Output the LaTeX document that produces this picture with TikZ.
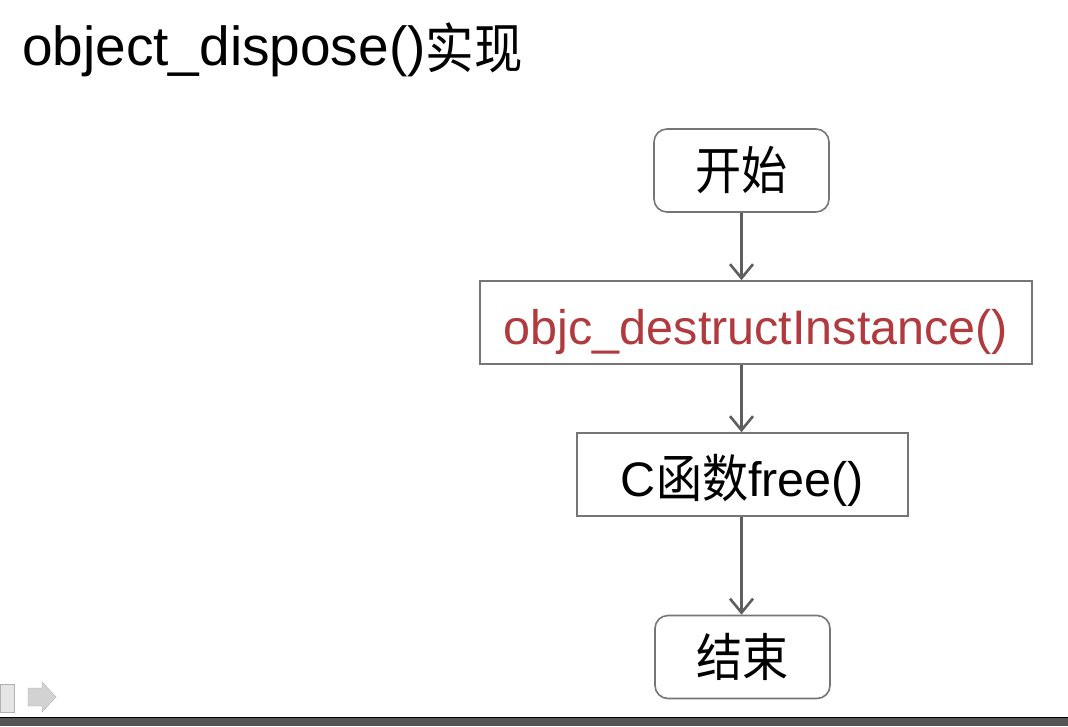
\documentclass[tikz,border=0pt]{standalone}
\usepackage{fontspec}
\usepackage{graphicx}
\setmainfont{Liberation Sans}
\newfontfamily\cjk{Noto Sans CJK SC}
\newcommand{\tallcjk}[1]{\scalebox{0.95}[1.06]{\cjk #1}}
\usetikzlibrary{arrows.meta}
\definecolor{linegray}{HTML}{5E5E5E}
\definecolor{boxgray}{HTML}{767676}
\definecolor{redtext}{HTML}{B03A3D}
\definecolor{bargray}{HTML}{555555}
\tikzset{
  boxfont/.style={font=\fontsize{48.5pt}{52pt}\selectfont},
  rbox/.style={draw=boxgray, line width=1.6pt, rounded corners=13pt, minimum width=175pt, minimum height=83pt, inner sep=0pt, boxfont},
  sbox/.style={draw=boxgray, line width=1.6pt, minimum height=83pt, inner sep=0pt, text height=44pt, text depth=0pt, boxfont},
  flow/.style={draw=linegray, line width=2.2pt, -{Straight Barb[length=14pt,width=23pt,line width=2.6pt]}}
}
\begin{document}
\begin{tikzpicture}[x=1pt,y=-1pt]
\useasboundingbox (0,0) rectangle (1068,726);
\fill[white] (0,0) rectangle (1068,726);
\node[anchor=base west, inner sep=0pt, font=\fontsize{55pt}{58pt}\selectfont] (title) at (22,65) {object\_dispose(){\fontsize{51pt}{54pt}\selectfont\raisebox{-3pt}{\tallcjk{实现}}}};
\node[rbox] (start) at (741.5,170.5) {\raisebox{-3pt}{\tallcjk{开始}}};
\node[sbox, minimum width=552pt, text=redtext] (destruct) at (756,322.5) {objc\_destructInstance()};
\node[sbox, minimum width=331pt] (free) at (742.5,474.5) {C\raisebox{-1pt}{\tallcjk{函数}}free()};
\node[rbox] (end) at (742.5,657) {\raisebox{-3pt}{\tallcjk{结束}}};
\draw[flow] (start) -- (start |- destruct.north);
\draw[flow] (start |- destruct.south) -- (start |- free.north);
\draw[flow] (start |- free.south) -- (start |- end.north);
% screen footer
\fill[bargray] (0,717) rectangle (1068,726);
\draw[black, line width=1pt] (0,717) -- (1068,717);
\fill[gray!35, draw=gray!60] (28,688) -- (42,688) -- (42,682) -- (56,697) -- (42,712) -- (42,706) -- (28,706) -- cycle;
\fill[gray!20, draw=gray!60] (0,684) rectangle (14,712);
\end{tikzpicture}
\end{document}
